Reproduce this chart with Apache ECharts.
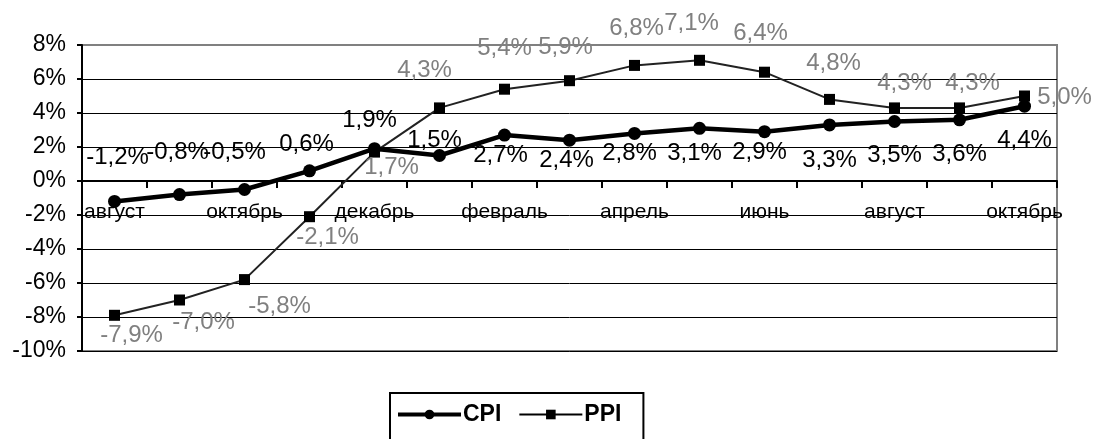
<!DOCTYPE html>
<html>
<head>
<meta charset="utf-8">
<script src="https://cdn.jsdelivr.net/npm/echarts@6/dist/echarts.min.js"></script>
<style>
html,body{margin:0;padding:0;background:#fff;}
#chart{width:1099px;height:439px;}
</style>
</head>
<body>
<div id="chart"></div>
<script>
// ---- data ----
var categories = ['август','сентябрь','октябрь','ноябрь','декабрь','январь','февраль','март','апрель','май','июнь','июль','август','сентябрь','октябрь'];
var cpiValues = [-1.2, -0.8, -0.5, 0.6, 1.9, 1.5, 2.7, 2.4, 2.8, 3.1, 2.9, 3.3, 3.5, 3.6, 4.4];
var ppiValues = [-7.9, -7.0, -5.8, -2.1, 1.7, 4.3, 5.4, 5.9, 6.8, 7.1, 6.4, 4.8, 4.3, 4.3, 5.0];
var yTicks = [-10, -8, -6, -4, -2, 0, 2, 4, 6, 8];

// ---- label placement (presentation only, pixel offsets from the point) ----
var cpiLabelShift = [[3,-44],[-2,-42],[-10,-37],[-3,-26],[-5,-28],[-5,-15],[-4,20],[-3,20],[-5,20],[-5,25],[-5,21],[0,35],[0,34],[0,35],[0,34]];
var ppiLabelShift = [[17,20],[24,22],[35,27],[18,21],[17,15],[-15,-38],[0,-41],[-4,-33],[2,-37],[-8,-37],[-4,-39],[4,-36],[10,-25],[13,-25],[40,1]];

function fmt(v){ return v.toFixed(1).replace('.', ',') + '%'; }
function buildData(values, shifts){
  return values.map(function(v, i){
    return { value: v, label: { offset: shifts[i] } };
  });
}

var FONT = '"Liberation Sans", Arial, sans-serif';
var chart = echarts.init(document.getElementById('chart'), null, {renderer: 'canvas'});
var splitColors = yTicks.map(function(t, i){ return i === yTicks.length - 1 ? '#808080' : '#000000'; });

var gridTop = 45, gridBottom = 88, chartH = 439;
var yMin = -10, yMax = 8;
var plotH = chartH - gridTop - gridBottom;
var zeroOffset = -plotH * (0 - yMin) / (yMax - yMin);

chart.setOption({
  animation: false,
  backgroundColor: '#ffffff',
  grid: {
    left: 82, top: gridTop, right: 42, bottom: gridBottom,
    show: true, borderColor: '#808080', borderWidth: 2, backgroundColor: 'transparent'
  },
  tooltip: { show: false },
  legend: {
    data: [
      { name: 'CPI', lineStyle: { width: 4, color: '#000' }, itemStyle: { color: '#000' } },
      { name: 'PPI', lineStyle: { width: 2, color: '#000' }, itemStyle: { color: '#000' } }
    ],
    left: 390, top: 393,
    orient: 'horizontal',
    itemWidth: 63, itemHeight: 12,
    itemGap: 17,
    padding: [10, 22, 40, 6],
    borderColor: '#000', borderWidth: 2,
    textStyle: { fontFamily: FONT, fontSize: 23, fontWeight: 'bold', color: '#000', padding: [0,0,0,-3] }
  },
  xAxis: {
    type: 'category',
    data: categories,
    boundaryGap: true,
    offset: zeroOffset,
    axisPointer: { show: false },
    axisLine: { onZero: false, lineStyle: { color: '#000', width: 2 } },
    axisTick: { show: true, interval: 0, alignWithLabel: false, length: 7, lineStyle: { color: '#000', width: 2 } },
    axisLabel: { interval: 1, margin: 21, color: '#000', fontFamily: FONT, fontSize: 21 },
    splitLine: { show: false },
    splitArea: { show: false }
  },
  yAxis: {
    type: 'value',
    min: yMin, max: yMax, interval: 2,
    axisLine: { show: true, lineStyle: { color: '#000', width: 2 } },
    axisTick: { show: true, length: 5, lineStyle: { color: '#000', width: 2 } },
    axisLabel: { margin: 16, color: '#000', fontFamily: FONT, fontSize: 23, formatter: function(v){ return v + '%'; } },
    splitLine: { show: true, lineStyle: { color: splitColors, width: 1 } }
  },
  series: [
    {
      name: 'PPI', type: 'line', z: 3,
      data: buildData(ppiValues, ppiLabelShift),
      symbol: 'rect', symbolSize: 11,
      itemStyle: { color: '#000' },
      lineStyle: { color: '#222', width: 2 },
      label: { show: true, position: 'inside', color: '#808080', fontFamily: FONT, fontSize: 24,
               formatter: function(p){ return fmt(p.value); } }
    },
    {
      name: 'CPI', type: 'line', z: 4,
      data: buildData(cpiValues, cpiLabelShift),
      symbol: 'circle', symbolSize: 13,
      itemStyle: { color: '#000' },
      lineStyle: { color: '#000', width: 4.5 },
      label: { show: true, position: 'inside', color: '#000', fontFamily: FONT, fontSize: 24,
               formatter: function(p){ return fmt(p.value); } }
    }
  ]
});
</script>
</body>
</html>
